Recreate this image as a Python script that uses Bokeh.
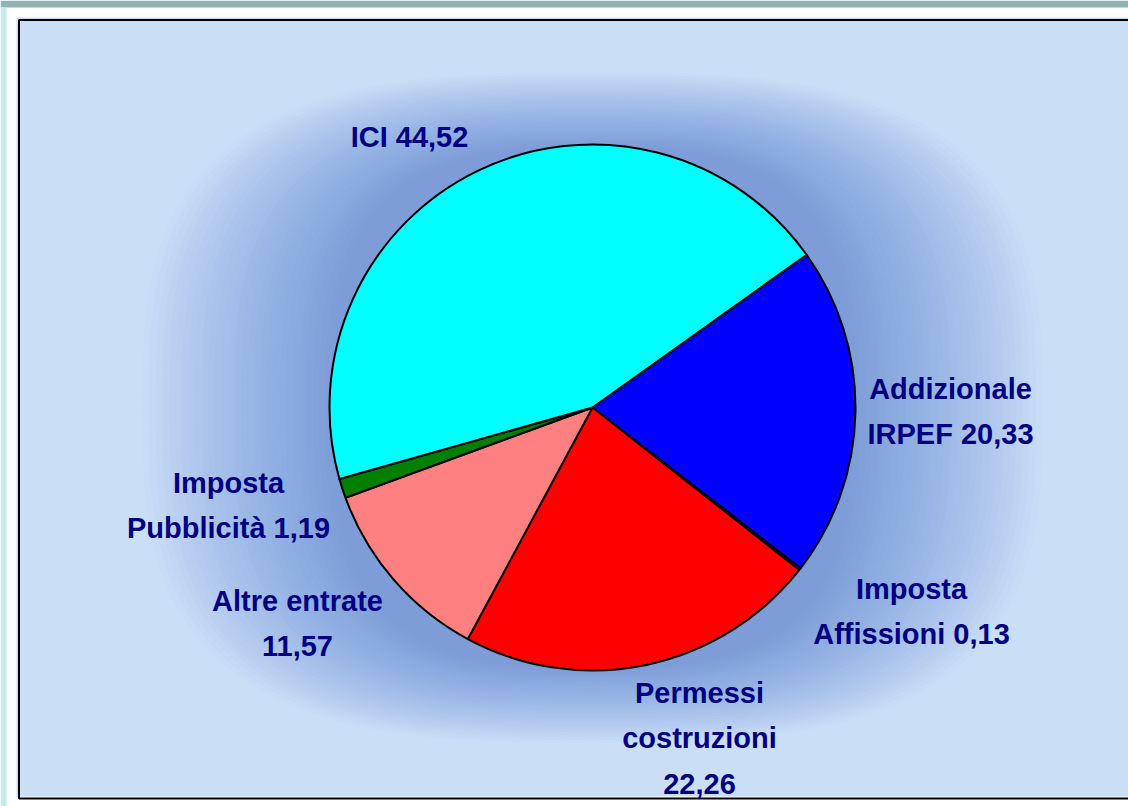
import math
from bokeh.plotting import figure
from bokeh.models import Range1d, ColumnDataSource
from bokeh.core.properties import value
from bokeh.embed import file_html
from bokeh.resources import INLINE

# ---- data (clockwise order starting at the ICI / IRPEF boundary) ----
categories = ["Addizionale\nIRPEF", "Imposta\nAffissioni", "Permessi\ncostruzioni",
              "Altre entrate", "Imposta\nPubblicità", "ICI"]
values = [20.33, 0.13, 22.26, 11.57, 1.19, 44.52]
colors = ["#0000FF", "#993366", "#FF0000", "#FF8080", "#008000", "#00FFFF"]

# ---- layout (page pixel positions; y converted below) ----
W, H = 1128, 806
def py(page_y):
    return H - page_y

cx, cy, R = 592, py(407), 263
start_deg = 35.5
label_sep = [" ", " ", "\n", "\n", " ", " "]
label_xy = [(950, 411), (911, 611), (699, 738), (297, 623), (228, 505), (409, 136)]

total = sum(values)
starts, ends, cum = [], [], 0.0
for v in values:
    a_before = math.radians(start_deg) - cum / total * 2 * math.pi
    cum += v
    a_after = math.radians(start_deg) - cum / total * 2 * math.pi
    starts.append(a_after)
    ends.append(a_before)

def fmt(v):
    return ("%.2f" % v).replace(".", ",")

texts = [c + s + fmt(v) for c, s, v in zip(categories, label_sep, values)]

p = figure(width=W, height=H, output_backend="svg", toolbar_location=None,
           x_range=Range1d(0, W), y_range=Range1d(0, H), min_border=0)
p.axis.visible = False
p.grid.visible = False
p.outline_line_color = None
p.background_fill_color = "white"
p.border_fill_color = "white"

# slide frame strips
p.quad(left=[0], right=[W], top=[py(0)], bottom=[py(7)],
       fill_color="#93b3b2", line_color=None)
p.quad(left=[0], right=[6], top=[py(7)], bottom=[py(H)],
       fill_color="#c4eaec", line_color=None)

# chart area
p.quad(left=[16], right=[W + 5], top=[py(17)], bottom=[py(796)],
       fill_color="#cadff6", line_color=None)

# soft blue glow behind the pie (layered rounded shapes)
n = 30
ex = 3.0
for i in range(n):
    t = i / (n - 1)
    a = 450 - 190 * t
    b = 335 - 75 * t
    xs, ys = [], []
    for k in range(120):
        th = 2 * math.pi * k / 120
        c, s = math.cos(th), math.sin(th)
        xs.append(cx + a * math.copysign(abs(c) ** (2 / ex), c))
        ys.append(cy + b * math.copysign(abs(s) ** (2 / ex), s))
    p.patch(xs, ys, fill_color="#3c64c8", fill_alpha=0.021, line_color=None)

# border
p.quad(left=[18.5], right=[W + 10], top=[py(19.5)], bottom=[py(798)],
       fill_color=None, line_color="#000000", line_width=2)

src = ColumnDataSource(dict(start=starts, end=ends, color=colors))
p.wedge(x=cx, y=cy, radius=R, start_angle="start", end_angle="end",
        fill_color="color", line_color="black", line_width=2, source=src)

tsrc = ColumnDataSource(dict(x=[xy[0] for xy in label_xy],
                             y=[py(xy[1]) for xy in label_xy], text=texts))
p.text(x="x", y="y", text="text", source=tsrc, text_align="center",
       text_baseline="middle", text_font=value("Liberation Sans"),
       text_font_style="bold", text_font_size="29px", text_color="#000080",
       text_line_height=1.42)

open("out.html", "w").write(file_html(p, INLINE))
